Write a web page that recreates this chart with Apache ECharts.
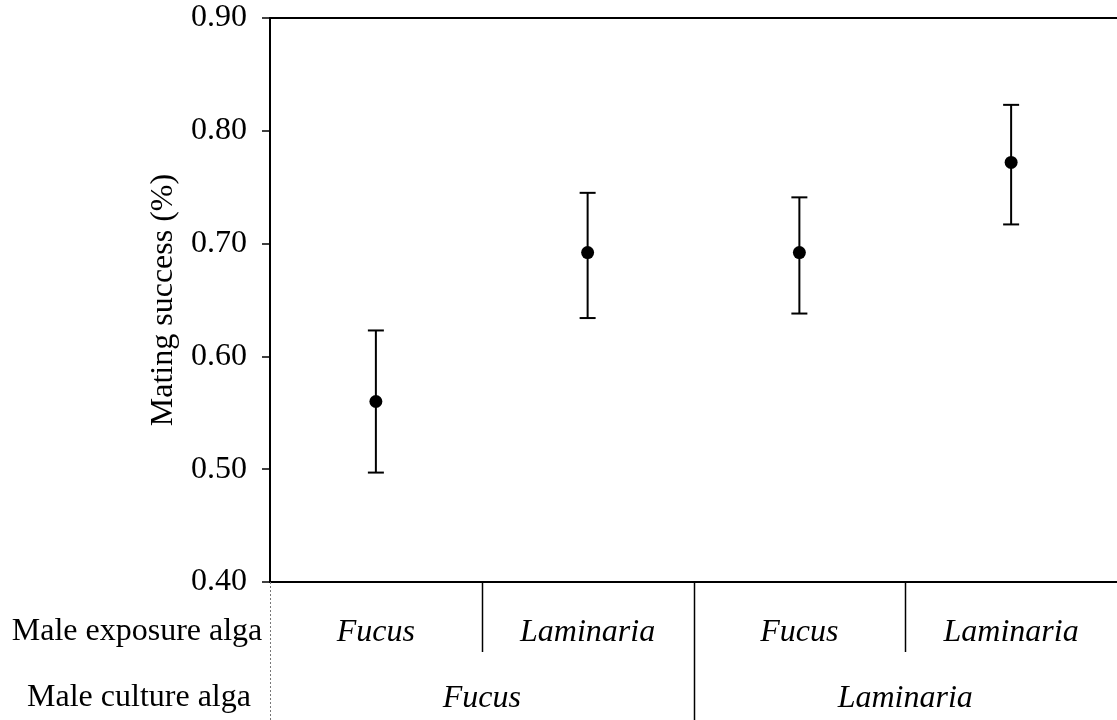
<!DOCTYPE html>
<html>
<head>
<meta charset="utf-8">
<script src="https://cdn.jsdelivr.net/npm/echarts@6/dist/echarts.min.js"></script>
<style>
  html, body { margin: 0; padding: 0; background: #fff; }
  #chart { width: 1117px; height: 720px; }
</style>
</head>
<body>
<div id="chart"></div>
<script>
// Treatment groups: male exposure alga (inner row) nested within male culture alga (outer row)
const exposureAlga = ['Fucus', 'Laminaria', 'Fucus', 'Laminaria'];
const cultureAlga = ['Fucus', 'Laminaria'];

// Mean mating success with lower / upper error limits
const meanSuccess = [0.560, 0.692, 0.692, 0.772];
const lowerLimit = [0.497, 0.634, 0.638, 0.717];
const upperLimit = [0.623, 0.745, 0.741, 0.823];

// Value axis range
const yMin = 0.40;
const yMax = 0.90;
const yStep = 0.10;

const rowHeaders = ['Male exposure alga', 'Male culture alga'];

const FONT = "'Liberation Serif', 'Times New Roman', serif";
const FS = 32;
const perCulture = exposureAlga.length / cultureAlga.length;

const chart = echarts.init(document.getElementById('chart'), null, { renderer: 'canvas' });

const option = {
  backgroundColor: '#ffffff',
  animation: false,
  grid: { left: 270, right: 0, top: 18, bottom: 138, containLabel: false },
  xAxis: [
    {
      type: 'category',
      data: exposureAlga,
      position: 'bottom',
      boundaryGap: true,
      axisLine: { show: true, lineStyle: { color: '#000', width: 2 } },
      axisTick: { show: false },
      axisLabel: {
        margin: 35,
        fontFamily: FONT,
        fontSize: FS,
        fontStyle: 'italic',
        color: '#000'
      },
      splitLine: { show: false }
    },
    {
      type: 'category',
      data: cultureAlga,
      position: 'bottom',
      boundaryGap: true,
      axisLine: { show: false },
      axisTick: { show: false },
      axisLabel: {
        margin: 101,
        fontFamily: FONT,
        fontSize: FS,
        fontStyle: 'italic',
        color: '#000'
      },
      splitLine: { show: false }
    },
    {
      type: 'category',
      data: exposureAlga,
      position: 'top',
      boundaryGap: true,
      axisLine: { show: true, lineStyle: { color: '#000', width: 2 } },
      axisTick: { show: false },
      axisLabel: { show: false },
      splitLine: { show: false }
    }
  ],
  yAxis: {
    type: 'value',
    min: yMin,
    max: yMax,
    interval: yStep,
    name: 'Mating success (%)',
    nameLocation: 'middle',
    nameGap: 90,
    nameTextStyle: { fontFamily: FONT, fontSize: FS, color: '#000' },
    axisLine: { show: true, lineStyle: { color: '#000', width: 2 } },
    axisTick: { show: true, inside: false, length: 8, lineStyle: { color: '#000', width: 1.5 } },
    axisLabel: {
      margin: 23,
      fontFamily: FONT,
      fontSize: FS,
      color: '#000',
      padding: [6, 0, 0, 0],
      formatter: v => v.toFixed(2)
    },
    splitLine: { show: false }
  },
  graphic: [
    {
      type: 'text',
      x: 137,
      y: 632,
      style: {
        text: rowHeaders[0],
        fontFamily: FONT,
        fontSize: FS,
        fill: '#000',
        align: 'center',
        verticalAlign: 'middle'
      }
    },
    {
      type: 'text',
      x: 139,
      y: 698,
      style: {
        text: rowHeaders[1],
        fontFamily: FONT,
        fontSize: FS,
        fill: '#000',
        align: 'center',
        verticalAlign: 'middle'
      }
    }
  ],
  series: [
    {
      // group dividers below the axis
      name: 'dividers',
      type: 'custom',
      xAxisIndex: 0,
      yAxisIndex: 0,
      clip: false,
      silent: true,
      data: exposureAlga.map((_, i) => [i]),
      renderItem: function (params, api) {
        const idx = params.dataIndex;
        const c = api.coord([api.value(0), yMin]);
        const bw = api.size([1, 0])[0];
        const x = Math.round(c[0] - bw / 2) + 0.5;
        const y0 = c[1];
        const bottom = api.getHeight();
        if (idx === 0) {
          return {
            type: 'line',
            shape: { x1: x, y1: y0, x2: x, y2: bottom },
            style: { stroke: '#777', lineWidth: 1, lineDash: [2, 2] }
          };
        }
        const newGroup = Math.floor(idx / perCulture) !== Math.floor((idx - 1) / perCulture);
        return {
          type: 'line',
          shape: { x1: x, y1: y0, x2: x, y2: newGroup ? bottom : y0 + 70 },
          style: { stroke: '#000', lineWidth: 1.5 }
        };
      },
      z: 3
    },
    {
      name: 'error',
      type: 'custom',
      xAxisIndex: 0,
      yAxisIndex: 0,
      clip: false,
      data: exposureAlga.map((_, i) => [i, lowerLimit[i], upperLimit[i]]),
      renderItem: function (params, api) {
        const lo = api.coord([api.value(0), api.value(1)]);
        const hi = api.coord([api.value(0), api.value(2)]);
        const half = 8;
        const style = { stroke: '#000', lineWidth: 2, fill: null };
        return {
          type: 'group',
          children: [
            { type: 'line', shape: { x1: lo[0], y1: lo[1], x2: hi[0], y2: hi[1] }, style: style },
            { type: 'line', shape: { x1: hi[0] - half, y1: hi[1], x2: hi[0] + half, y2: hi[1] }, style: style },
            { type: 'line', shape: { x1: lo[0] - half, y1: lo[1], x2: lo[0] + half, y2: lo[1] }, style: style }
          ]
        };
      },
      z: 4
    },
    {
      name: 'mean',
      type: 'scatter',
      xAxisIndex: 0,
      yAxisIndex: 0,
      data: meanSuccess,
      symbol: 'circle',
      symbolSize: 13,
      itemStyle: { color: '#000', opacity: 1 },
      z: 5
    }
  ]
};

chart.setOption(option);
</script>
</body>
</html>
